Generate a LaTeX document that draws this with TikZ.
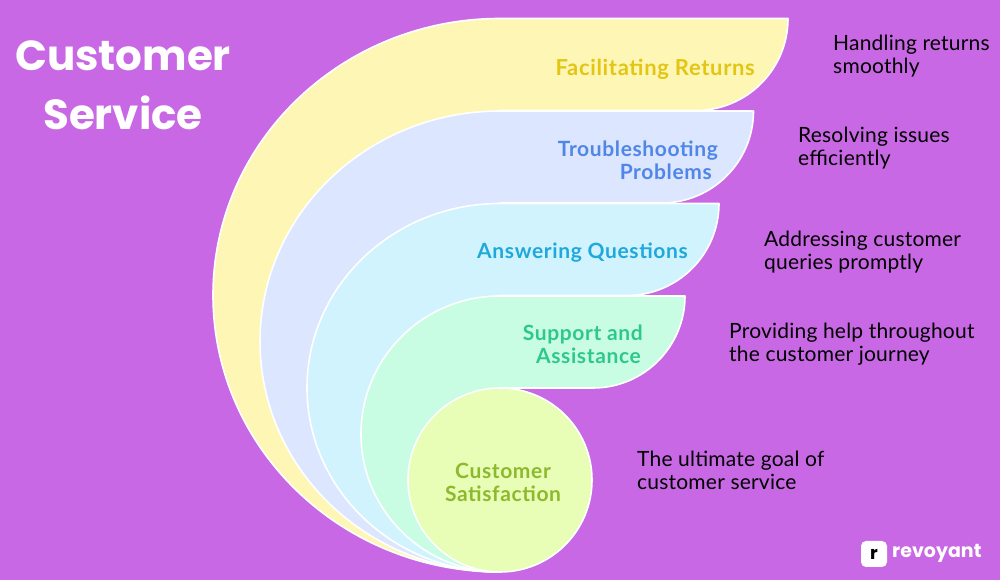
\documentclass[tikz,border=0pt]{standalone}
\usepackage{fontspec}
\setmainfont{Lato}
\newfontfamily\titlefont{Poppins}
\newfontfamily\notefont{Lato}[LetterSpace=1.0]
\newfontfamily\labfont{Lato}[LetterSpace=3.0]
\definecolor{bgc}{HTML}{C868E4}
\definecolor{ylw}{HTML}{FEF6B4}
\definecolor{blu}{HTML}{DCE6FE}
\definecolor{cya}{HTML}{D1F3FE}
\definecolor{grn}{HTML}{C8FDE4}
\definecolor{lim}{HTML}{E8FDB6}
\definecolor{ylwt}{HTML}{E3C514}
\definecolor{blut}{HTML}{4F86E8}
\definecolor{cyat}{HTML}{1FA8DC}
\definecolor{grnt}{HTML}{2FC88A}
\definecolor{limt}{HTML}{8DB92E}
\tikzset{
  band/.style={draw=white,line width=1.6pt,line join=round},
  lab/.style={inner sep=0pt,font=\labfont\fontsize{21}{23}\selectfont\bfseries},
  note/.style={inner sep=0pt,anchor=west,align=left,text=black,font=\notefont\fontsize{21}{23}\selectfont},
}
\begin{document}
\begin{tikzpicture}[x=1pt,y=1pt]
\useasboundingbox (0,0) rectangle (1000,580);
\fill[bgc] (0,0) rectangle (1000,580);
% bands, largest first (y measured from the bottom of the picture)
\draw[band,fill=ylw] (500,8) arc[start angle=-90,end angle=-270,x radius=287,y radius=276.75] -- (788,561.5) arc[start angle=0,end angle=-90,radius=92] -- (500,469.5) -- cycle;
\draw[band,fill=blu] (500,8) arc[start angle=-90,end angle=-270,x radius=240,y radius=230.5] -- (753.5,469) arc[start angle=0,end angle=-90,radius=92] -- (500,377) -- cycle;
\draw[band,fill=cya] (500,8) arc[start angle=-90,end angle=-270,x radius=193,y radius=184.25] -- (719,376.5) arc[start angle=0,end angle=-90,radius=92] -- (500,284.5) -- cycle;
\draw[band,fill=grn] (500,8) arc[start angle=-90,end angle=-270,x radius=139,y radius=138] -- (685,284) arc[start angle=0,end angle=-90,radius=92] -- (500,192) -- cycle;
\node[circle,draw=white,line width=1.6pt,fill=lim,minimum size=184pt,inner sep=0pt] (sat) at (500,100) {};
% band labels
\node[lab,text=ylwt,anchor=east,font=\labfont\fontsize{22}{23}\selectfont\bfseries] (ret) at (755,511) {Facilitating Returns};
\node[lab,text=blut,anchor=east,align=right] (tro) at (718,420) {Troubleshooting\\Problems\hspace*{6pt}};
\node[lab,text=cyat,anchor=east] (ans) at (688,327) {Answering Questions};
\node[lab,text=grnt,anchor=east,align=right] (sup) at (643,236) {Support and\\Assistance\hspace*{2pt}};
\node[lab,text=limt,align=center] (cus) at (503,98) {Customer\\Satisfaction};
% notes
\node[note] (n1) at (833,523.5) {Handling returns\\smoothly};
\node[note] (n2) at (798,432) {Resolving issues\\efficiently};
\node[note] (n3) at (764,328) {Addressing customer\\queries promptly};
\node[note] (n4) at (729,236) {Providing help throughout\\the customer journey};
\node[note] (n5) at (637,110) {The ultimate goal of\\customer service};
% title
\node[inner sep=0pt,text=white,align=center,font=\titlefont\fontsize{42}{59}\selectfont\bfseries] (title) at (123,495) {Customer\\Service};
% logo
\node[fill=white,rounded corners=5pt,minimum size=26pt,inner sep=0pt,font=\titlefont\fontsize{18}{18}\selectfont\bfseries,text=black] (logo) at (874,26) {r};
\node[inner sep=0pt,anchor=west,text=white,font=\titlefont\fontsize{19}{19}\selectfont\bfseries] (brand) at (892,27) {revoyant};
\end{tikzpicture}
\end{document}
